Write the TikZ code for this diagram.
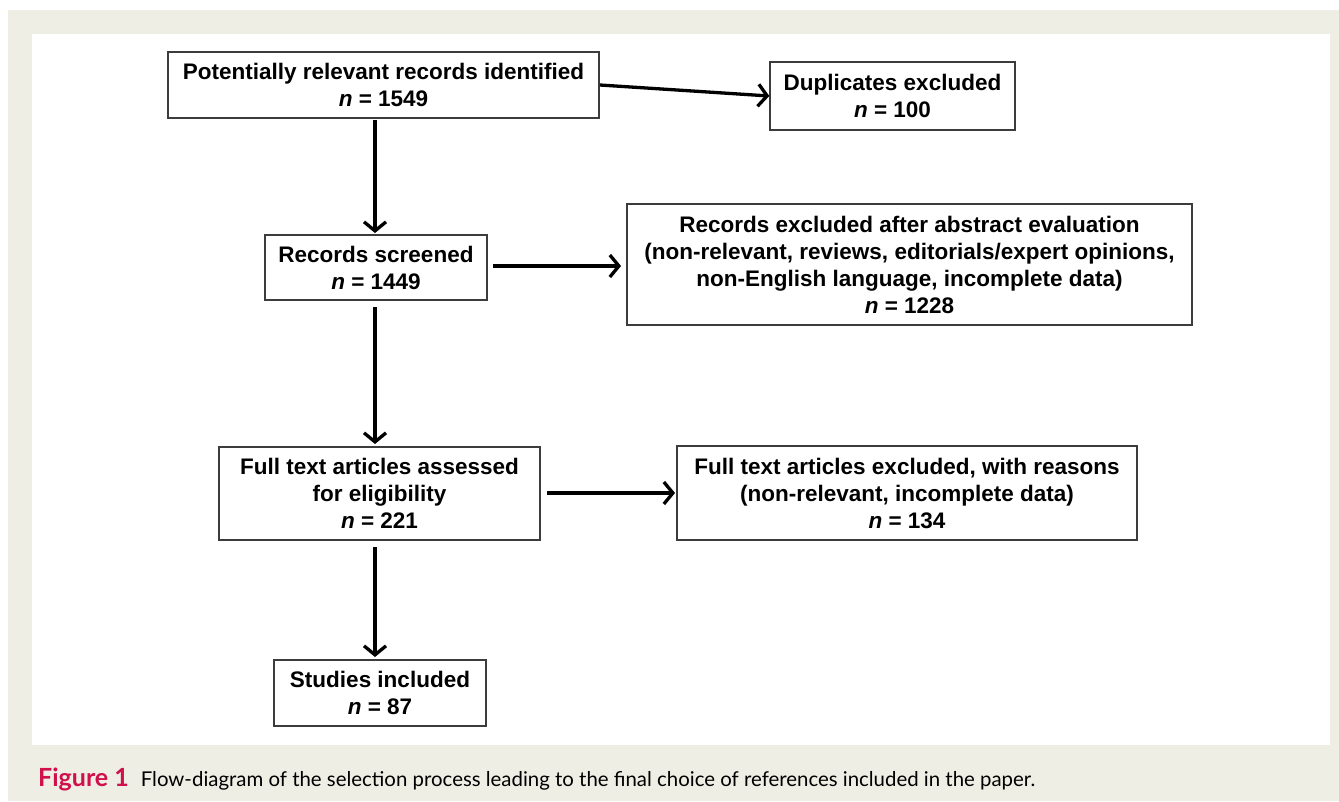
\documentclass[tikz,border=0pt]{standalone}
\usepackage{fontspec}
\setmainfont{Liberation Sans}
\newfontfamily\capfont{Lato}
\usetikzlibrary{arrows.meta}
\definecolor{beige}{RGB}{239,238,228}
\definecolor{figred}{RGB}{208,16,76}
\definecolor{boxline}{RGB}{60,60,60}
\tikzset{
  flowbox/.style={draw=boxline, line width=1.4pt, fill=white, inner sep=0pt, align=center,
    font=\bfseries\fontsize{22.5}{27}\selectfont},
  arr/.style={line width=3.3pt, -{Straight Barb[length=9pt,width=22pt,line width=3.3pt]}},
}
\begin{document}
\begin{tikzpicture}[x=1pt,y=-1pt]
\useasboundingbox (0,0) rectangle (1339,801);
\fill[white] (0,0) rectangle (1339,801);
\fill[beige] (8,10) rectangle (1339,801);
\fill[white] (32,34) rectangle (1330,745);

\node[flowbox, minimum width=431pt, minimum height=66pt] (b1) at (383.5,85) {Potentially relevant records identified\\\textit{n} = 1549};
\node[flowbox, minimum width=245pt, minimum height=68pt] (b2) at (892.5,96) {Duplicates excluded\\\textit{n} = 100};
\node[flowbox, minimum width=222pt, minimum height=65pt] (b3) at (376,267.5) {Records screened\\\textit{n} = 1449};
\node[flowbox, minimum width=565pt, minimum height=121pt] (b4) at (909.5,264.5) {Records excluded after abstract evaluation\\(non-relevant, reviews, editorials/expert opinions,\\non-English language, incomplete data)\\\textit{n} = 1228};
\node[flowbox, minimum width=321pt, minimum height=93pt] (b5) at (379.5,493.5) {Full text articles assessed\\for eligibility\\\textit{n} = 221};
\node[flowbox, minimum width=460pt, minimum height=94pt] (b6) at (907,493) {Full text articles excluded, with reasons\\(non-relevant, incomplete data)\\\textit{n} = 134};
\node[flowbox, minimum width=212pt, minimum height=66pt] (b7) at (380,693) {Studies included\\\textit{n} = 87};

\coordinate (a1s) at (600,85);
\draw[arr] (a1s) -- (b2.west);
\draw[arr] (375,120) -- (375,233);
\draw[arr] (493,266) -- (621,266);
\draw[arr] (375,307) -- (375,444);
\draw[arr] (547,493) -- (675,493);
\draw[arr] (375,547) -- (375,657);

\node[anchor=base west, inner sep=0pt, font=\capfont\fontsize{20.4}{24}\selectfont] (cap) at (38,786)
  {\textcolor{figred}{\fontsize{25}{28}\selectfont\bfseries Figure 1}\hspace{12pt}Flow-diagram of the selection process leading to the final choice of references included in the paper.};
\end{tikzpicture}
\end{document}
